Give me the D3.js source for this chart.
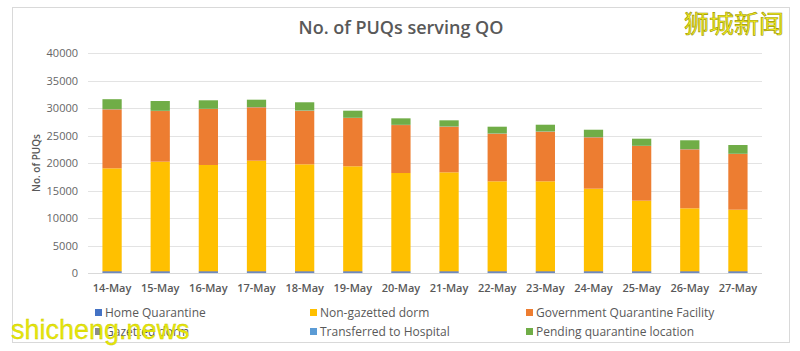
<!DOCTYPE html>
<html>
<head>
<meta charset="utf-8">
<script src="https://cdn.jsdelivr.net/npm/d3@7/dist/d3.min.js"></script>
<style>
  html, body { margin: 0; padding: 0; background: #fff; }
  svg { display: block; font-family: "Open Sans", sans-serif; }
</style>
</head>
<body>
<svg id="chart" width="800" height="351"></svg>
<script>
// data
const dates = ["14-May","15-May","16-May","17-May","18-May","19-May","20-May",
               "21-May","22-May","23-May","24-May","25-May","26-May","27-May"];
const homeQuarantine = [150,150,150,150,150,150,150,150,150,150,150,150,150,150];
const gazettedDorm   = [200,200,200,200,200,200,200,200,200,200,200,200,200,200];
const nonGazetted    = [18680,19890,19290,20070,19410,19050,17830,17950,16320,16320,14980,12800,11410,11160];
const govFacility    = [10730,9210,10180,9710,9750,8780,8720,8300,8660,9030,9340,9940,10730,10130];
const toHospital     = [40,40,40,40,40,40,40,40,40,40,40,40,40,40];
const pending        = [1800,1780,1540,1340,1490,1290,1180,1120,1230,1220,1340,1290,1600,1590];
const yTicks = [0,5000,10000,15000,20000,25000,30000,35000,40000];

// stack order bottom -> top
const series = [
  { key: "home",     name: "Home Quarantine",               color: "#4472c4", values: homeQuarantine },
  { key: "gaz",      name: "Gazetted dorm",                 color: "#8c8c8c", values: gazettedDorm },
  { key: "nongaz",   name: "Non-gazetted dorm",             color: "#ffc000", values: nonGazetted },
  { key: "gqf",      name: "Government Quarantine Facility", color: "#ed7d31", values: govFacility },
  { key: "hosp",     name: "Transferred to Hospital",       color: "#5b9bd5", values: toHospital },
  { key: "pending",  name: "Pending quarantine location",   color: "#70ad47", values: pending }
];
const legendOrder = ["home","nongaz","gqf","gaz","hosp","pending"];

const rows = dates.map((d, i) => {
  const r = { date: d };
  series.forEach(s => r[s.key] = s.values[i]);
  return r;
});

const svg = d3.select("#chart");

// frame
svg.append("rect").attr("x", 12.5).attr("y", 7.5).attr("width", 777).attr("height", 335)
  .attr("fill", "#fff").attr("stroke", "#d9d9d9");

// title
svg.append("text").attr("x", 401).attr("y", 34).attr("text-anchor", "middle")
  .attr("font-size", 18).attr("font-weight", 600).attr("fill", "#595959")
  .text("No. of PUQs serving QO");

const x = d3.scaleBand().domain(dates).range([88, 762]).paddingInner(0.6).paddingOuter(0.3);
const y = d3.scaleLinear().domain([0, 40000]).range([273, 53]);

// gridlines
svg.append("g").selectAll("line").data(yTicks).join("line")
  .attr("x1", 88).attr("x2", 762)
  .attr("y1", d => Math.round(y(d)) + 0.5).attr("y2", d => Math.round(y(d)) + 0.5)
  .attr("stroke", "#e3e3e3");

// y axis labels
const yAxis = svg.append("g").attr("transform", "translate(88,0)")
  .call(d3.axisLeft(y).tickValues(yTicks).tickFormat(d3.format("d")).tickSize(0).tickPadding(10));
yAxis.select(".domain").remove();
yAxis.selectAll("text").attr("font-size", 11).attr("fill", "#666").attr("font-family", "Open Sans");

// x axis labels
const xAxis = svg.append("g").attr("transform", "translate(0,273)")
  .call(d3.axisBottom(x).tickSize(0).tickPadding(11));
xAxis.select(".domain").attr("stroke", "#d9d9d9").attr("d", "M88,0.5H762");
xAxis.selectAll("text").attr("font-size", 11).attr("font-weight", 600).attr("fill", "#595959")
  .attr("font-family", "Open Sans");

// y axis title
svg.append("text").attr("transform", "translate(40,163) rotate(-90)")
  .attr("text-anchor", "middle").attr("font-size", 10).attr("font-weight", 600)
  .attr("fill", "#595959").text("No. of PUQs");

// bars
const stacked = d3.stack().keys(series.map(s => s.key))(rows);
const colorOf = d3.scaleOrdinal(series.map(s => s.key), series.map(s => s.color));
svg.append("g").selectAll("g").data(stacked).join("g")
  .attr("fill", d => colorOf(d.key))
  .selectAll("rect").data(d => d).join("rect")
  .attr("x", d => x(d.data.date))
  .attr("width", x.bandwidth())
  .attr("y", d => y(d[1]))
  .attr("height", d => y(d[0]) - y(d[1]));

// legend
const legendCols = [95, 310, 526];
const legendRows = [313, 332];
const legendItems = legendOrder.map(k => series.find(s => s.key === k));
const lg = svg.append("g").selectAll("g").data(legendItems).join("g")
  .attr("transform", (d, i) => `translate(${legendCols[i % 3]},${legendRows[Math.floor(i / 3)]})`);
lg.append("rect").attr("x", 0).attr("y", -4).attr("width", 7).attr("height", 7)
  .attr("fill", d => d.color);
lg.append("text").attr("x", 10).attr("y", 0).attr("dy", "0.35em")
  .attr("font-size", 12).attr("fill", "#595959").text(d => d.name);

// watermarks
svg.append("text").attr("x", 734).attr("y", 33).attr("text-anchor", "middle")
  .attr("font-family", "Noto Sans CJK SC").attr("font-size", 25)
  .attr("fill", "#f5f020").attr("stroke", "#9a9400").attr("stroke-width", 0.6)
  .text("狮城新闻");
svg.append("text").attr("x", 11).attr("y", 339)
  .attr("font-family", "Liberation Sans").attr("font-size", 27)
  .attr("fill", "#e6e60a").attr("stroke", "#c8c800").attr("stroke-width", 0.3)
  .text("shicheng.news");
</script>
</body>
</html>
